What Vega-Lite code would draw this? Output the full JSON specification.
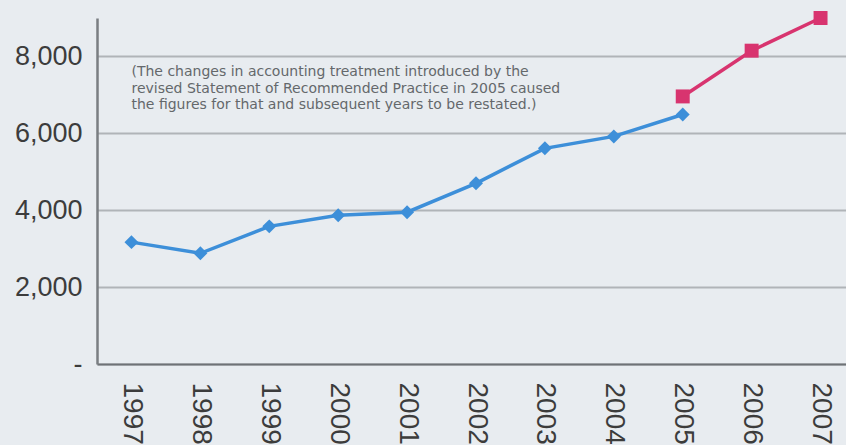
{
  "$schema": "https://vega.github.io/schema/vega-lite/v6.json",
  "autosize": "none",
  "width": 758,
  "height": 346,
  "padding": {"left": 97, "top": 18, "right": 0, "bottom": 81},
  "background": "#e8ecf0",
  "config": {
    "view": {"stroke": null},
    "font": "Liberation Sans"
  },
  "datasets": {
    "series": [
      {"year": "1997", "value": 3170, "series": "original"},
      {"year": "1998", "value": 2880, "series": "original"},
      {"year": "1999", "value": 3580, "series": "original"},
      {"year": "2000", "value": 3870, "series": "original"},
      {"year": "2001", "value": 3950, "series": "original"},
      {"year": "2002", "value": 4700, "series": "original"},
      {"year": "2003", "value": 5610, "series": "original"},
      {"year": "2004", "value": 5920, "series": "original"},
      {"year": "2005", "value": 6490, "series": "original"},
      {"year": "2005", "value": 6960, "series": "restated"},
      {"year": "2006", "value": 8150, "series": "restated"},
      {"year": "2007", "value": 9000, "series": "restated"}
    ],
    "note": [
      {"year": "1997", "value": 7590, "text": "(The changes in accounting treatment introduced by the|revised Statement of Recommended Practice in 2005 caused|the figures for that and subsequent years to be restated.)"}
    ]
  },
  "encoding": {
    "x": {
      "field": "year", "type": "ordinal",
      "scale": {"type": "point", "padding": 0.5, "domain": ["1997","1998","1999","2000","2001","2002","2003","2004","2005","2006","2007"]},
      "axis": {
        "title": null, "labelAngle": 90, "labelAlign": "left", "labelBaseline": "middle",
        "labelFontSize": 28, "labelColor": "#3c3c3c", "labelPadding": 18,
        "labelOverlap": false, "labelBound": false, "labelFlush": false,
        "ticks": false, "domainColor": "#6e7276", "domainWidth": 2, "grid": false
      }
    },
    "y": {
      "field": "value", "type": "quantitative",
      "scale": {"domain": [0, 9000], "nice": false},
      "axis": {
        "title": null, "values": [0, 2000, 4000, 6000, 8000],
        "labelExpr": "datum.value == 0 ? '-' : format(datum.value, ',')",
        "labelFontSize": 27, "labelColor": "#3c3c3c", "labelPadding": 15,
        "labelOverlap": false, "labelBound": false, "labelFlush": false,
        "ticks": false, "domainColor": "#7a7e82", "domainWidth": 2.5,
        "grid": true, "gridColor": "#b0b4b8", "gridWidth": 2
      }
    }
  },
  "layer": [
    {
      "data": {"name": "series"},
      "mark": {"type": "line", "strokeWidth": 3.5, "clip": false},
      "encoding": {
        "color": {"field": "series", "type": "nominal", "scale": {"domain": ["original", "restated"], "range": ["#3d8fd9", "#d8346f"]}, "legend": null}
      }
    },
    {
      "data": {"name": "series"},
      "mark": {"type": "point", "filled": true, "opacity": 1, "size": 195, "clip": false},
      "encoding": {
        "color": {"field": "series", "type": "nominal", "scale": {"domain": ["original", "restated"], "range": ["#3d8fd9", "#d8346f"]}, "legend": null},
        "shape": {"field": "series", "type": "nominal", "scale": {"domain": ["original", "restated"], "range": ["diamond", "square"]}, "legend": null}
      }
    },
    {
      "data": {"name": "note"},
      "mark": {"type": "text", "align": "left", "baseline": "middle", "font": "DejaVu Sans", "fontSize": 14, "color": "#64686b", "lineBreak": "|", "lineHeight": 16.5},
      "encoding": {
        "text": {"field": "text"}
      }
    }
  ]
}
